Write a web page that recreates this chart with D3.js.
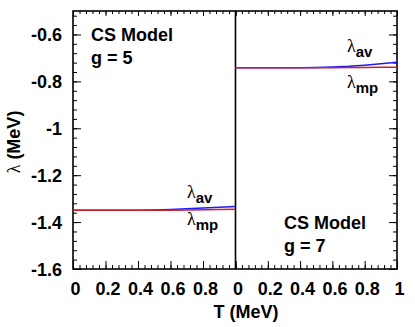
<!DOCTYPE html>
<html><head><meta charset="utf-8">
<script src="https://cdn.jsdelivr.net/npm/d3@7"></script>
<style>
body{margin:0;background:#fff;}
text{font-family:"Liberation Sans",Arial,sans-serif;font-weight:bold;}
</style></head>
<body><svg id="c" width="415" height="327"></svg>
<script>
// ---- data ----
const T = [0,0.1,0.2,0.3,0.4,0.5,0.6,0.7,0.8,0.9,1.0];
const g5_mp = [-1.350,-1.350,-1.350,-1.350,-1.350,-1.349,-1.349,-1.348,-1.347,-1.346,-1.345];
const g5_av = [-1.350,-1.350,-1.350,-1.350,-1.349,-1.348,-1.346,-1.343,-1.340,-1.337,-1.334];
const g7_mp = [-0.742,-0.742,-0.742,-0.742,-0.742,-0.742,-0.742,-0.741,-0.741,-0.740,-0.740];
const g7_av = [-0.742,-0.742,-0.742,-0.742,-0.742,-0.741,-0.739,-0.736,-0.731,-0.725,-0.719];
const yTicks = [-1.6,-1.4,-1.2,-1,-0.8,-0.6];
const yTickLabels = ["-1.6","-1.4","-1.2","-1","-0.8","-0.6"];
const xTicks = [0,0.2,0.4,0.6,0.8,1];
const xTickLabelsLeft = ["0","0.2","0.4","0.6","0.8",""];
const xTickLabelsRight = ["0","0.2","0.4","0.6","0.8","1"];

const svg = d3.select("#c");
const yTop=11, yBot=269, x0=73, xm=235.5, x1=397;
const y = d3.scaleLinear().domain([-1.6,-0.5]).range([yBot,yTop]);
const xL = d3.scaleLinear().domain([0,1]).range([x0,xm]);
const xR = d3.scaleLinear().domain([0,1]).range([xm,x1]);
const yMinor = d3.range(-1.6,-0.5+1e-9,0.04).map(v=>+v.toFixed(2));
const xMinor = d3.range(0,1+1e-9,0.04).map(v=>+v.toFixed(2));

function styleAxis(g){
  g.select(".domain").remove();
  g.selectAll("line").attr("stroke","#000").attr("stroke-width",1);
  g.selectAll("text").filter(function(){return this.textContent==="";}).remove();
}

// left y axis
svg.append("g").attr("transform",`translate(${x0},0)`)
  .call(d3.axisLeft(y).tickValues(yMinor).tickSize(-4).tickFormat(""))
  .call(styleAxis);
svg.append("g").attr("transform",`translate(${x0},0)`)
  .call(d3.axisLeft(y).tickValues(yTicks).tickSize(-8).tickFormat((d,i)=>yTickLabels[i]))
  .call(styleAxis)
  .call(g=>g.selectAll("text").attr("font-size",18).attr("fill","#000").attr("x",-11).attr("dy","0.36em"));
// right y axis
svg.append("g").attr("transform",`translate(${x1},0)`)
  .call(d3.axisRight(y).tickValues(yMinor).tickSize(-4).tickFormat(""))
  .call(styleAxis);
svg.append("g").attr("transform",`translate(${x1},0)`)
  .call(d3.axisRight(y).tickValues(yTicks).tickSize(-8).tickFormat(""))
  .call(styleAxis);

[[xL,xTickLabelsLeft],[xR,xTickLabelsRight]].forEach(([xs,labs])=>{
  svg.append("g").attr("transform",`translate(0,${yBot})`)
    .call(d3.axisBottom(xs).tickValues(xMinor).tickSize(-4).tickFormat("")).call(styleAxis);
  svg.append("g").attr("transform",`translate(0,${yBot})`)
    .call(d3.axisBottom(xs).tickValues(xTicks).tickSize(-8).tickFormat((d,i)=>labs[i]))
    .call(styleAxis)
    .call(g=>g.selectAll("text").attr("font-size",18).attr("fill","#000").attr("dx",2).attr("y",26).attr("dy",0));
  svg.append("g").attr("transform",`translate(0,${yTop})`)
    .call(d3.axisTop(xs).tickValues(xMinor).tickSize(-3).tickFormat("")).call(styleAxis);
  svg.append("g").attr("transform",`translate(0,${yTop})`)
    .call(d3.axisTop(xs).tickValues(xTicks).tickSize(-5).tickFormat("")).call(styleAxis);
});

// frame
svg.append("rect").attr("x",x0).attr("y",yTop).attr("width",x1-x0).attr("height",yBot-yTop)
  .attr("fill","none").attr("stroke","#000").attr("stroke-width",1.6);
svg.append("line").attr("x1",xm).attr("x2",xm).attr("y1",yTop).attr("y2",yBot)
  .attr("stroke","#000").attr("stroke-width",1.6);

// lines
function drawLine(xs,vals,color){
  const line=d3.line().x((d,i)=>xs(T[i])).y(d=>y(d));
  svg.append("path").datum(vals).attr("d",line).attr("fill","none")
    .attr("stroke",color).attr("stroke-width",1.5);
}
drawLine(xL,g5_av,"#1a1aff");
drawLine(xL,g5_mp,"#cc1f2a");
drawLine(xR,g7_av,"#1a1aff");
drawLine(xR,g7_mp,"#cc1f2a");

// lambda labels
function lam(x,yb,sub){
  const t=svg.append("text").attr("x",x).attr("y",yb).attr("fill","#000");
  t.append("tspan").text("λ").attr("font-family","'Liberation Serif',serif").attr("font-weight","normal").attr("font-size",18);
  t.append("tspan").text(sub).attr("font-size",15).attr("dy",5);
}
lam(187,198,"av");
lam(187,225,"mp");
lam(347,52,"av");
lam(347,88,"mp");

// panel titles
function title(x,yb,lines){
  lines.forEach((s,i)=>svg.append("text").attr("x",x).attr("y",yb+i*23).attr("font-size",18).attr("fill","#000").text(s));
}
title(91,41,["CS Model","g = 5"]);
title(284,229,["CS Model","g = 7"]);

// axis titles
svg.append("text").attr("x",246).attr("y",318).attr("text-anchor","middle").attr("font-size",18).text("T (MeV)");
const yt=svg.append("text").attr("transform","translate(20,142) rotate(-90)").attr("text-anchor","middle").attr("font-size",18);
yt.append("tspan").text("λ").attr("font-family","'Liberation Serif',serif").attr("font-weight","normal");
yt.append("tspan").text(" (MeV)");
</script></body></html>
